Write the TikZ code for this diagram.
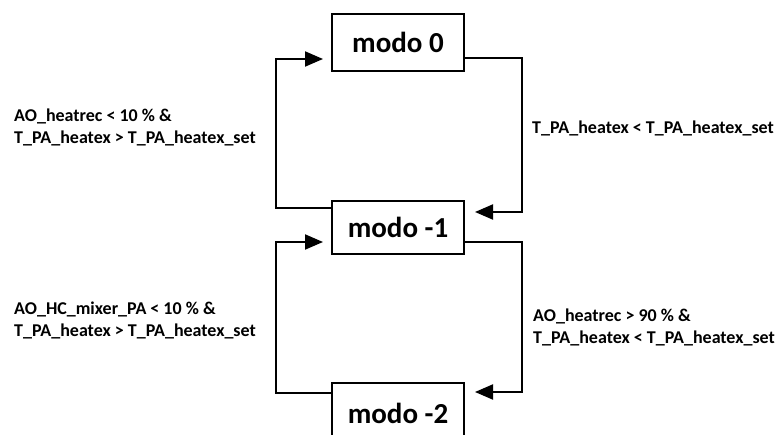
\documentclass[tikz,border=0pt]{standalone}
\usepackage{fontspec}
\setmainfont{Carlito}
\usetikzlibrary{arrows.meta}
\begin{document}
\begin{tikzpicture}[x=1pt,y=-1pt,
  modebox/.style={draw,line width=2pt,minimum width=132pt,font=\fontsize{29}{34}\selectfont\bfseries,inner sep=0pt},
  cond/.style={anchor=north west,align=left,inner sep=0pt,font=\fontsize{18}{22}\selectfont\bfseries},
  conn/.style={line width=2pt},
  arr/.style={conn,-{Triangle[length=18pt,width=15pt]}}]
\useasboundingbox[fill=white] (0,0) rectangle (784,435);
\node[modebox,minimum height=57pt] (m0) at (398,42.5) {modo 0};
\node[modebox,minimum height=53pt] (m1) at (398,227.5) {modo -1};
\node[modebox,minimum height=60pt] (m2) at (398,413) {modo -2};
\node[cond] (c1) at (14,109) {AO\_heatrec < 10 \% \&\\T\_PA\_heatex > T\_PA\_heatex\_set};
\node[cond] (c2) at (532,121) {T\_PA\_heatex < T\_PA\_heatex\_set};
\node[cond] (c3) at (14,302) {AO\_HC\_mixer\_PA < 10 \% \&\\T\_PA\_heatex > T\_PA\_heatex\_set};
\node[cond] (c4) at (533,309) {AO\_heatrec > 90 \% \&\\T\_PA\_heatex < T\_PA\_heatex\_set};
\draw[arr] (m1.west |- 0,208) -| (276,59) -- (323,59);
\draw[arr] (m0.east |- 0,58) -| (522,212) -- (475,212);
\draw[arr] (m2.west |- 0,393) -| (276,242) -- (323,242);
\draw[arr] (m1.east |- 0,242) -| (522,392) -- (475,392);
\end{tikzpicture}
\end{document}
